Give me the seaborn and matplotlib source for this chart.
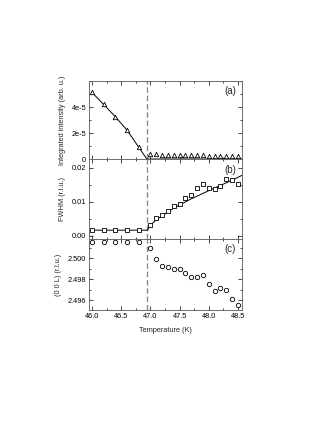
import numpy as np
import pandas as pd
import matplotlib
matplotlib.use("Agg")
import matplotlib.pyplot as plt
from matplotlib.ticker import AutoMinorLocator, FixedLocator
import seaborn as sns

# ---- data ----
temp_low = [46.0, 46.2, 46.4, 46.6, 46.8]
temp_high = [47.0, 47.1, 47.2, 47.3, 47.4, 47.5, 47.6, 47.7,
             47.8, 47.9, 48.0, 48.1, 48.2, 48.3, 48.4, 48.5]

intensity_low = [5.13e-5, 4.20e-5, 3.26e-5, 2.23e-5, 0.92e-5]
intensity_high = [0.42e-5, 0.36e-5, 0.34e-5, 0.33e-5, 0.32e-5, 0.31e-5, 0.30e-5, 0.29e-5,
                  0.28e-5, 0.28e-5, 0.27e-5, 0.26e-5, 0.26e-5, 0.25e-5, 0.25e-5, 0.24e-5]
intensity_fit_t = [46.0, 46.2, 46.4, 46.6, 46.8, 46.94, 48.57]
intensity_fit_v = [5.13e-5, 4.20e-5, 3.26e-5, 2.23e-5, 0.92e-5, 0.0, 0.0]

fwhm_low = [0.0016, 0.0016, 0.0016, 0.0016, 0.0016]
fwhm_high = [0.00315, 0.00512, 0.00611, 0.00719, 0.00867, 0.00936, 0.01103, 0.01202,
             0.01409, 0.01527, 0.01399, 0.01369, 0.01458, 0.01655, 0.01626, 0.01527]
fwhm_fit_t = [46.0, 46.95, 47.0, 47.1, 47.2, 47.35, 47.5, 47.7, 47.9, 48.1, 48.3, 48.57]
fwhm_fit_v = [0.0016, 0.0016, 0.0030, 0.0046, 0.0058, 0.0075, 0.0090, 0.0108, 0.0124,
              0.0140, 0.0155, 0.0177]

l_low = [2.50148, 2.50152, 2.50155, 2.50152, 2.50148]
l_high = [2.50094, 2.49994, 2.49921, 2.49912, 2.49899, 2.49896, 2.49858, 2.49824,
          2.49824, 2.49839, 2.49757, 2.49691, 2.49717, 2.49701, 2.49616, 2.49559]

t_transition = 46.95
panel_labels = ["(a)", "(b)", "(c)"]
ylabels = ["Integrated intensity (arb. u.)", "FWHM (r.l.u.)", "(0 0 L) (r.l.u.)"]
xlabel = "Temperature (K)"

# ---- styling ----
sns.set_style("ticks")
plt.rcParams['font.family'] = ['Liberation Sans', 'DejaVu Sans']
fs = 5.3

fig = plt.figure(figsize=(3.32, 4.30), dpi=100)
gs = fig.add_gridspec(3, 1, height_ratios=[78, 80, 71], hspace=0,
                      left=0.268, right=0.729, top=0.8116, bottom=0.279)
axes = [fig.add_subplot(gs[i]) for i in range(3)]

temps = temp_low + temp_high
ms = 10
mkw = dict(facecolor="white", edgecolor="black", linewidth=0.6, zorder=3)

# (a)
ax = axes[0]
sns.lineplot(x=intensity_fit_t, y=intensity_fit_v, ax=ax, color="black", lw=0.7, zorder=2)
sns.scatterplot(x=temps, y=intensity_low + intensity_high, ax=ax, marker="^", s=ms, **mkw)
ax.set_ylim(0, 6.0e-5)
ax.yaxis.set_major_locator(FixedLocator([0, 2e-5, 4e-5]))
ax.set_yticklabels(["0", "2e-5", "4e-5"])

# (b)
ax = axes[1]
sns.lineplot(x=fwhm_fit_t, y=fwhm_fit_v, ax=ax, color="black", lw=0.7, zorder=2)
sns.scatterplot(x=temps, y=fwhm_low + fwhm_high, ax=ax, marker="s", s=ms, **mkw)
ax.set_ylim(-0.001, 0.0225)
ax.yaxis.set_major_locator(FixedLocator([0.0, 0.01, 0.02]))
ax.set_yticklabels(["0.00", "0.01", "0.02"])

# (c)
ax = axes[2]
sns.scatterplot(x=temps, y=l_low + l_high, ax=ax, marker="o", s=ms, **mkw)
ax.set_ylim(2.4951, 2.5018)
ax.yaxis.set_major_locator(FixedLocator([2.496, 2.498, 2.500]))
ax.set_yticklabels(["2.496", "2.498", "2.500"])

for i, ax in enumerate(axes):
    ax.set_xlim(45.95, 48.57)
    ax.axvline(t_transition, color="#8c8c8c", ls=(0, (4, 2)), lw=1.0, zorder=1)
    ax.xaxis.set_major_locator(FixedLocator([46.0, 46.5, 47.0, 47.5, 48.0, 48.5]))
    ax.xaxis.set_minor_locator(AutoMinorLocator(2))
    ax.yaxis.set_minor_locator(AutoMinorLocator(2))
    ax.tick_params(which="both", direction="in", top=True, right=True,
                   labelsize=fs, width=0.5, colors="black", pad=2)
    ax.tick_params(which="major", length=3)
    ax.tick_params(which="minor", length=1.5)
    for sp in ax.spines.values():
        sp.set_linewidth(0.6)
        sp.set_color("#555555")
    ax.set_ylabel(ylabels[i], fontsize=fs, labelpad=4)
    ax.text(0.96, 0.93, panel_labels[i], transform=ax.transAxes, ha="right", va="top",
            fontsize=7)
    if i < 2:
        ax.tick_params(labelbottom=False)
        ax.set_xlabel("")
    else:
        ax.set_xticklabels(["46.0", "46.5", "47.0", "47.5", "48.0", "48.5"])
        ax.set_xlabel(xlabel, fontsize=fs, labelpad=5)

fig.savefig("out.png", dpi=100)
